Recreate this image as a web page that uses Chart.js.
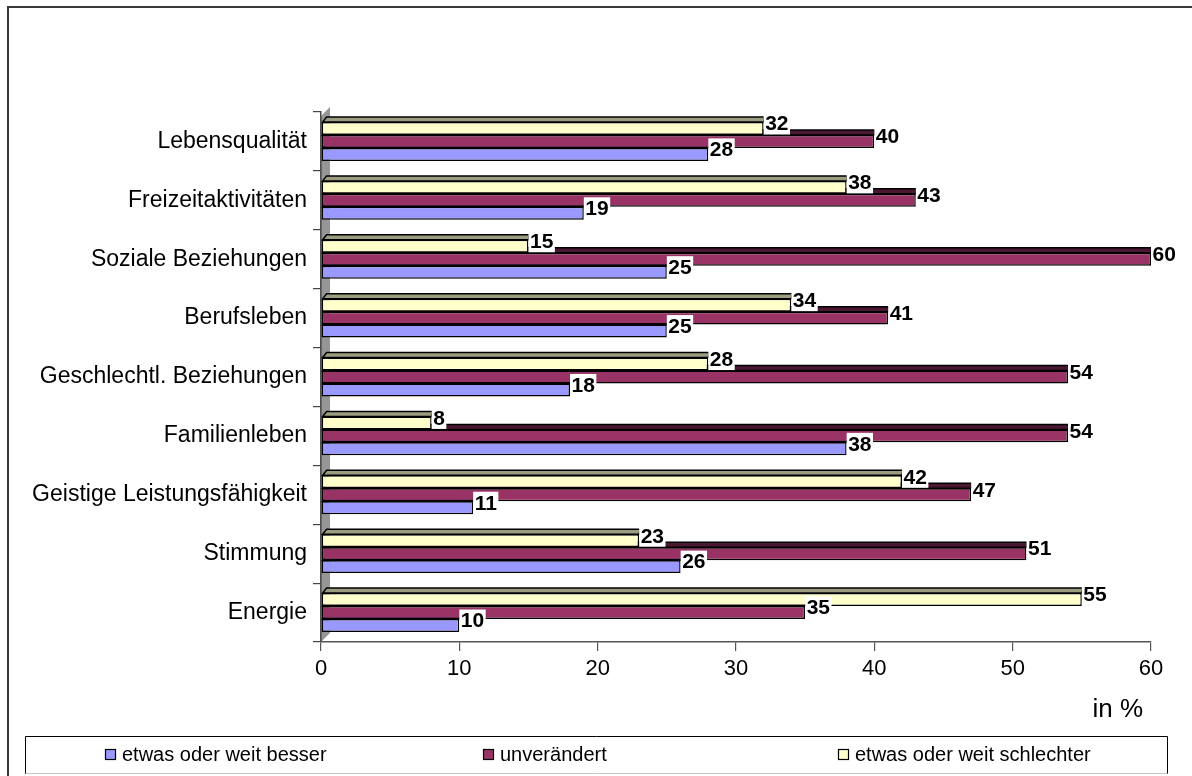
<!DOCTYPE html>
<html>
<head>
<meta charset="utf-8">
<script src="https://cdn.jsdelivr.net/npm/chart.js@4.4.1/dist/chart.umd.min.js"></script>
<style>
  html, body { margin: 0; padding: 0; background: #ffffff; }
  #wrap { width: 1192px; height: 776px; position: relative; }
</style>
</head>
<body>
<div id="wrap"><canvas id="c" width="1192" height="776"></canvas></div>
<script>
// Categories, top to bottom
const categories = [
  'Lebensqualität',
  'Freizeitaktivitäten',
  'Soziale Beziehungen',
  'Berufsleben',
  'Geschlechtl. Beziehungen',
  'Familienleben',
  'Geistige Leistungsfähigkeit',
  'Stimmung',
  'Energie'
];

// Shares in percent
const besser       = [28, 19, 25, 25, 18, 38, 11, 26, 10];
const unveraendert = [40, 43, 60, 41, 54, 54, 47, 51, 35];
const schlechter   = [32, 38, 15, 34, 28,  8, 42, 23, 55];

const seriesNames = ['etwas oder weit besser', 'unverändert', 'etwas oder weit schlechter'];
const xTickValues = [0, 10, 20, 30, 40, 50, 60];
const unitLabel = 'in %';

const FONT = '"Liberation Sans", Arial, sans-serif';

const frontColors = {
  besser: '#9999FF',
  unveraendert: '#993366',
  schlechter: '#FFFFCC'
};
const topColors = {
  besser: '#55558f',
  unveraendert: '#4a1832',
  schlechter: '#9c9c80'
};

// Datasets listed top-most bar first within each category
const datasets = [
  { key: 'schlechter', label: seriesNames[2], data: schlechter },
  { key: 'unveraendert', label: seriesNames[1], data: unveraendert },
  { key: 'besser', label: seriesNames[0], data: besser }
].map(d => ({
  label: d.label,
  data: d.data,
  key: d.key,
  backgroundColor: frontColors[d.key],
  topColor: topColors[d.key],
  borderColor: '#000000',
  borderWidth: 1.5,
  borderSkipped: false,
  categoryPercentage: 0.66,
  barPercentage: 1.0
}));

// Outer frame of the drawing
const framePlugin = {
  id: 'frame',
  beforeDraw(chart) {
    const ctx = chart.ctx;
    ctx.save();
    ctx.fillStyle = '#ffffff';
    ctx.fillRect(0, 0, chart.width, chart.height);
    ctx.strokeStyle = '#3a3a3a';
    ctx.lineWidth = 2;
    ctx.beginPath();
    ctx.moveTo(8, chart.height);
    ctx.lineTo(8, 7);
    ctx.lineTo(chart.width, 7);
    ctx.stroke();
    ctx.restore();
  }
};

// Grey side wall behind the bars
const wallPlugin = {
  id: 'wall',
  beforeDatasetsDraw(chart) {
    const { ctx, chartArea } = chart;
    const x0 = chartArea.left, y0 = chartArea.top, y1 = chartArea.bottom;
    const d = 9;
    ctx.save();
    ctx.fillStyle = '#969696';
    ctx.beginPath();
    ctx.moveTo(x0, y1);
    ctx.lineTo(x0, y0 + 4);
    ctx.lineTo(x0 + d, y0 + 4 - d);
    ctx.lineTo(x0 + d, y1 - d);
    ctx.closePath();
    ctx.fill();
    ctx.strokeStyle = '#555555';
    ctx.lineWidth = 1.5;
    ctx.beginPath();
    ctx.moveTo(x0, y1);
    ctx.lineTo(x0, y0 + 4);
    ctx.stroke();
    ctx.restore();
  }
};

// Thin top face on each bar for the raised look
const topFacePlugin = {
  id: 'topFace',
  afterDatasetDraw(chart, args) {
    const { ctx } = chart;
    const meta = args.meta;
    const ds = chart.data.datasets[args.index];
    ctx.save();
    ctx.fillStyle = ds.topColor;
    ctx.strokeStyle = '#000000';
    ctx.lineWidth = 1.5;
    meta.data.forEach(bar => {
      const p = bar.getProps(['x', 'y', 'base', 'height'], true);
      const left = p.base, right = p.x, top = p.y - p.height / 2;
      ctx.beginPath();
      ctx.moveTo(left + 1, top);
      ctx.lineTo(right, top);
      ctx.lineTo(right + 1, top - 5);
      ctx.lineTo(left + 5, top - 5);
      ctx.closePath();
      ctx.fill();
      ctx.stroke();
    });
    ctx.restore();
  }
};

// Value labels at the bar ends
const valueLabelPlugin = {
  id: 'valueLabels',
  afterDatasetsDraw(chart) {
    const { ctx } = chart;
    ctx.save();
    ctx.font = 'bold 21px ' + FONT;
    ctx.textBaseline = 'middle';
    ctx.textAlign = 'left';
    for (let i = chart.data.datasets.length - 1; i >= 0; i--) {
      const ds = chart.data.datasets[i];
      const meta = chart.getDatasetMeta(i);
      meta.data.forEach((bar, j) => {
        const txt = String(ds.data[j]);
        const w = ctx.measureText(txt).width;
        const x = bar.x;
        const y = bar.y - 5;
        ctx.fillStyle = '#ffffff';
        ctx.fillRect(x, y - 11, w + 3, 22);
        ctx.fillStyle = '#000000';
        ctx.fillText(txt, x + 1.5, y + 1);
      });
    }
    ctx.restore();
  }
};

// Unit caption and boxed legend below the axis
const legendBoxPlugin = {
  id: 'legendBox',
  afterDraw(chart) {
    const { ctx } = chart;
    ctx.save();
    ctx.fillStyle = '#000000';
    ctx.font = '26px ' + FONT;
    ctx.textAlign = 'right';
    ctx.textBaseline = 'middle';
    ctx.fillText(unitLabel, 1143, 710);

    const itemX = [105, 483, 838];
    const cy = 754;
    ctx.strokeStyle = '#000000';
    ctx.lineWidth = 1;
    ctx.beginPath();
    ctx.moveTo(25.5, 774);
    ctx.lineTo(25.5, 736.5);
    ctx.lineTo(1167.5, 736.5);
    ctx.lineTo(1167.5, 774);
    ctx.stroke();
    ctx.strokeStyle = '#c8c8c8';
    ctx.beginPath();
    ctx.moveTo(25.5, 773.5);
    ctx.lineTo(1167.5, 773.5);
    ctx.stroke();

    ctx.font = '20px ' + FONT;
    ctx.textAlign = 'left';
    const order = chart.data.datasets.slice().reverse();
    order.forEach((ds, k) => {
      const x = itemX[k];
      ctx.fillStyle = ds.backgroundColor;
      ctx.fillRect(x, cy - 5, 10, 10);
      ctx.strokeStyle = '#000000';
      ctx.lineWidth = 1.2;
      ctx.strokeRect(x + 0.5, cy - 4.5, 10, 10);
      ctx.fillStyle = '#000000';
      ctx.fillText(ds.label, x + 17, cy + 1);
    });
    ctx.restore();
  }
};

new Chart(document.getElementById('c'), {
  type: 'bar',
  data: { labels: categories, datasets },
  options: {
    indexAxis: 'y',
    responsive: false,
    animation: false,
    devicePixelRatio: 1,
    layout: { padding: { top: 112, left: 0, right: 41, bottom: 0 } },
    plugins: {
      legend: { display: false },
      tooltip: { enabled: false }
    },
    scales: {
      x: {
        type: 'linear',
        position: 'bottom',
        min: xTickValues[0],
        max: xTickValues[xTickValues.length - 1],
        afterBuildTicks(scale) {
          scale.ticks = xTickValues.map(v => ({ value: v }));
        },
        afterFit(scale) { scale.height = 134; },
        grid: {
          drawOnChartArea: false,
          drawTicks: true,
          tickLength: 9,
          color: '#555555',
          lineWidth: 1.2
        },
        border: { display: true, color: '#555555', width: 1.5 },
        ticks: {
          color: '#000000',
          padding: 5,
          font: { family: FONT, size: 22 }
        }
      },
      y: {
        type: 'category',
        afterFit(scale) { scale.width = 321; },
        grid: {
          offset: true,
          drawOnChartArea: false,
          drawTicks: true,
          tickLength: 8,
          color: '#444444',
          lineWidth: 1.2
        },
        border: { display: true, color: '#444444', width: 1.5 },
        ticks: {
          color: '#000000',
          padding: 6,
          font: { family: FONT, size: 23 }
        }
      }
    }
  },
  plugins: [framePlugin, wallPlugin, topFacePlugin, valueLabelPlugin, legendBoxPlugin]
});
</script>
</body>
</html>
